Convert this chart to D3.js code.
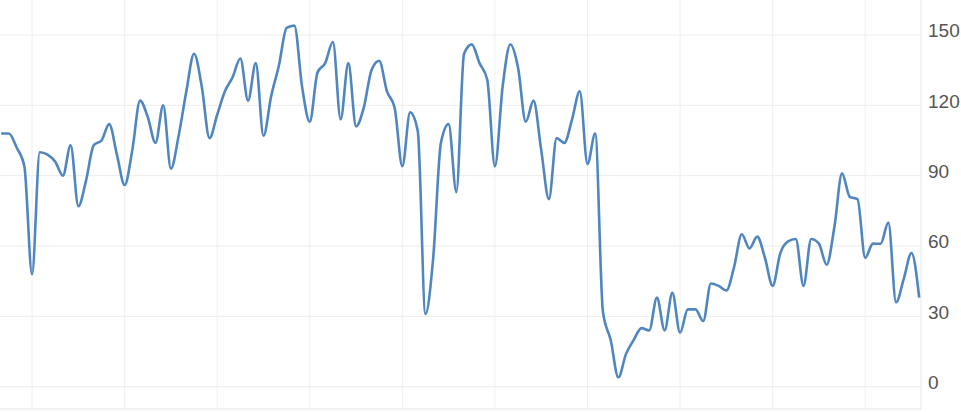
<!DOCTYPE html>
<html>
<head>
<meta charset="utf-8">
<script src="https://cdn.jsdelivr.net/npm/d3@7"></script>
<style>
  body { margin: 0; background: #fff; }
  svg { display: block; }
</style>
</head>
<body>
<svg id="chart"></svg>
<script>
// monthly values
const values = [
  108, 108, 102, 94, 48, 100, 99, 96, 90, 103, 77, 88,
  103, 105, 112, 99, 86, 101, 122, 115, 104, 120, 93, 107,
  126, 142, 128, 106, 116, 126, 132, 140, 122, 138, 107, 124,
  137, 153, 154, 128, 113, 134, 138, 147, 114, 138, 111, 119,
  135, 139, 126, 119, 94, 117, 109, 31, 55, 104, 112, 83,
  142, 146, 138, 131, 94, 128, 146, 136, 113, 122, 101, 80,
  106, 104, 114, 126, 95, 108, 32, 20, 4, 14, 20, 25,
  24, 38, 24, 40, 23, 33, 33, 28, 44, 43, 41, 51,
  65, 59, 64, 55, 43, 57, 62, 63, 43, 63, 61, 52,
  68, 91, 81, 80, 55, 61, 61, 70, 36, 46, 57, 38
];
const yTicks = [0, 30, 60, 90, 120, 150];
// january of each year (vertical grid)
const xTicks = [4, 16, 28, 40, 52, 64, 76, 88, 100, 112];

const width = 961, height = 412;
const plotRight = 921, plotBottom = 409;

const svg = d3.select("#chart").attr("width", width).attr("height", height);

const x = d3.scaleLinear().domain([0, values.length - 1]).range([1.2, 919.2]);
const y = d3.scaleLinear().domain([0, 150]).range([386.7, 35]);

// grid
svg.append("g").selectAll("line").data(yTicks).join("line")
  .attr("x1", 0).attr("x2", plotRight)
  .attr("y1", d => y(d)).attr("y2", d => y(d))
  .attr("stroke", "#ececec").attr("stroke-width", 1);

svg.append("g").selectAll("line").data(xTicks).join("line")
  .attr("x1", d => x(d)).attr("x2", d => x(d))
  .attr("y1", 0).attr("y2", plotBottom)
  .attr("stroke", "#efefef").attr("stroke-width", 1);

// frame: right edge + bottom axis line
svg.append("line")
  .attr("x1", plotRight).attr("x2", plotRight).attr("y1", 0).attr("y2", plotBottom)
  .attr("stroke", "#e8e8e8");
svg.append("line")
  .attr("x1", 0).attr("x2", plotRight).attr("y1", plotBottom).attr("y2", plotBottom)
  .attr("stroke", "#e3e3e3");

// y axis on the right
const yAxis = d3.axisRight(y).tickValues(yTicks).tickSize(0).tickPadding(7);
const ga = svg.append("g").attr("transform", `translate(${plotRight},0)`).call(yAxis);
ga.select(".domain").remove();
ga.selectAll("text")
  .attr("dy", "0.1em")
  .attr("fill", "#555")
  .style("font-family", "'Liberation Sans', Arial, sans-serif")
  .style("font-size", "19px");

// series
const line = d3.line()
  .x((d, i) => x(i))
  .y(d => y(d))
  .curve(d3.curveMonotoneX);

svg.append("path")
  .datum(values)
  .attr("fill", "none")
  .attr("stroke", "#4f86c0")
  .attr("stroke-width", 2.6)
  .attr("stroke-linejoin", "round")
  .attr("d", line);
</script>
</body>
</html>
